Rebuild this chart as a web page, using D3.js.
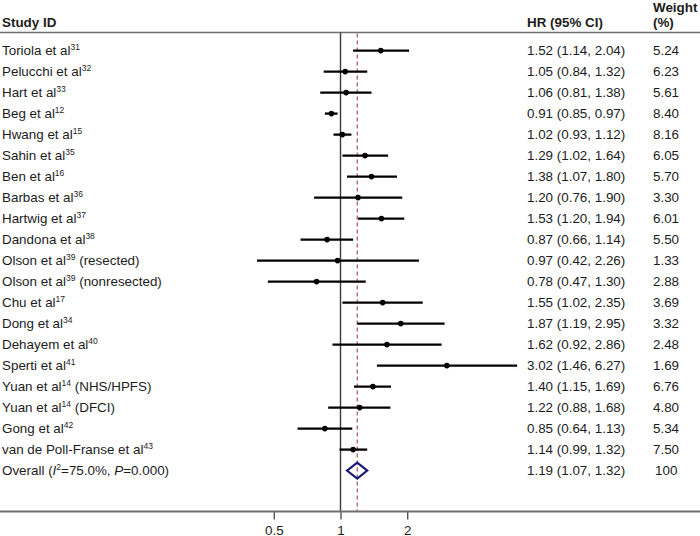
<!DOCTYPE html>
<html>
<head>
<meta charset="utf-8">
<script src="https://cdn.jsdelivr.net/npm/d3@7"></script>
<style>
html,body{margin:0;padding:0;background:#fff;}
svg{display:block;font-family:"Liberation Sans",Arial,sans-serif;}
</style>
</head>
<body>
<svg id="chart" width="700" height="536"></svg>
<script>
// ---- data ----
const studyNames = ["Toriola et al","Pelucchi et al","Hart et al","Beg et al","Hwang et al","Sahin et al","Ben et al","Barbas et al","Hartwig et al","Dandona et al","Olson et al","Olson et al","Chu et al","Dong et al","Dehayem et al","Sperti et al","Yuan et al","Yuan et al","Gong et al","van de Poll-Franse et al"];
const studyRefs = ["31","32","33","12","15","35","16","36","37","38","39","39","17","34","40","41","14","14","42","43"];
const studySuffix = ["","","","","","","","","",""," (resected)"," (nonresected)","","","",""," (NHS/HPFS)"," (DFCI)","",""];
const hr    = [1.52,1.05,1.06,0.91,1.02,1.29,1.38,1.20,1.53,0.87,0.97,0.78,1.55,1.87,1.62,3.02,1.40,1.22,0.85,1.14];
const lower = [1.14,0.84,0.81,0.85,0.93,1.02,1.07,0.76,1.20,0.66,0.42,0.47,1.02,1.19,0.92,1.46,1.15,0.88,0.64,0.99];
const upper = [2.04,1.32,1.38,0.97,1.12,1.64,1.80,1.90,1.94,1.14,2.26,1.30,2.35,2.95,2.86,6.27,1.69,1.68,1.13,1.32];
const weights = ["5.24","6.23","5.61","8.40","8.16","6.05","5.70","3.30","6.01","5.50","1.33","2.88","3.69","3.32","2.48","1.69","6.76","4.80","5.34","7.50"];
const overallHR = 1.19, overallLower = 1.07, overallUpper = 1.32, overallWeight = "100";
const overallI2 = "75.0%", overallP = "0.000";
const axisTicks = [0.5, 1, 2];
const axisTickLabels = ["0.5","1","2"];
const headers = {study:"Study ID", hr:"HR (95% CI)", w1:"Weight", w2:"(%)"};

// ---- drawing ----
const svg = d3.select("#chart");
const fmt = d3.format(".2f");
const x = d3.scaleLog().domain([0.5, 2]).range([273.8, 407.2]);
const nRows = hr.length + 1;
const y = d3.scaleLinear().domain([0, nRows - 1]).range([50.6, 470.6]);
const topY = 32.5, axisY = 511.5;
const textCol = "#1c1c1c";
const fs = 13.4;
const dyText = 4.8;

// header
svg.append("text").attr("x", 2).attr("y", 27).attr("font-size", fs).attr("font-weight", "bold").attr("fill", textCol).text(headers.study);
svg.append("text").attr("x", 527).attr("y", 27).attr("font-size", fs).attr("font-weight", "bold").attr("fill", textCol).text(headers.hr);
svg.append("text").attr("x", 653).attr("y", 11.5).attr("font-size", fs).attr("font-weight", "bold").attr("fill", textCol).text(headers.w1);
svg.append("text").attr("x", 653).attr("y", 27).attr("font-size", fs).attr("font-weight", "bold").attr("fill", textCol).text(headers.w2);

// header rule
svg.append("line").attr("x1", 0).attr("x2", 700).attr("y1", topY).attr("y2", topY).attr("stroke", "#6e6e6e").attr("stroke-width", 1.6);

// null line
svg.append("line").attr("x1", x(1)).attr("x2", x(1)).attr("y1", topY).attr("y2", axisY).attr("stroke", "#3a3a3a").attr("stroke-width", 1.4);
// overall dashed line
svg.append("line").attr("x1", x(overallHR)).attr("x2", x(overallHR)).attr("y1", topY + 1).attr("y2", axisY)
  .attr("stroke", "#a0506a").attr("stroke-width", 1.2).attr("stroke-dasharray", "4,3");

// rows
const rows = hr.map((d, i) => ({i, name: studyNames[i], ref: studyRefs[i], suffix: studySuffix[i], hr: d, lo: lower[i], hi: upper[i], w: weights[i]}));

svg.selectAll(".ci").data(rows).enter().append("line")
  .attr("x1", d => x(d.lo)).attr("x2", d => x(d.hi))
  .attr("y1", d => y(d.i)).attr("y2", d => y(d.i))
  .attr("stroke", "#000").attr("stroke-width", 2.3);
svg.selectAll(".pt").data(rows).enter().append("circle")
  .attr("cx", d => x(d.hr)).attr("cy", d => y(d.i)).attr("r", 2.8).attr("fill", "#000");

const lab = svg.selectAll(".lab").data(rows).enter().append("text")
  .attr("x", 2).attr("y", d => y(d.i) + dyText).attr("font-size", fs).attr("fill", textCol);
lab.append("tspan").text(d => d.name);
lab.append("tspan").attr("font-size", 8.5).attr("dy", -5).text(d => d.ref);
lab.append("tspan").attr("dy", 5).text(d => d.suffix);

svg.selectAll(".est").data(rows).enter().append("text")
  .attr("x", 527).attr("y", d => y(d.i) + dyText).attr("font-size", fs).attr("fill", textCol)
  .text(d => `${fmt(d.hr)} (${fmt(d.lo)}, ${fmt(d.hi)})`);
svg.selectAll(".wt").data(rows).enter().append("text")
  .attr("x", 653).attr("y", d => y(d.i) + dyText).attr("font-size", fs).attr("fill", textCol)
  .text(d => d.w);

// overall
const oy = y(nRows - 1);
const dh = 8;
svg.append("path")
  .attr("d", `M${x(overallLower)},${oy} L${x(overallHR)},${oy - dh} L${x(overallUpper)},${oy} L${x(overallHR)},${oy + dh} Z`)
  .attr("fill", "none").attr("stroke", "#1c1c78").attr("stroke-width", 2.2);
const ot = svg.append("text").attr("x", 2).attr("y", oy + dyText).attr("font-size", fs).attr("fill", textCol);
ot.append("tspan").text("Overall (");
ot.append("tspan").attr("font-style", "italic").text("I");
ot.append("tspan").attr("font-size", 8.5).attr("dy", -5).text("2");
ot.append("tspan").attr("dy", 5).text("=" + overallI2 + ", ");
ot.append("tspan").attr("font-style", "italic").text("P");
ot.append("tspan").text("=" + overallP + ")");
svg.append("text").attr("x", 527).attr("y", oy + dyText).attr("font-size", fs).attr("fill", textCol)
  .text(`${fmt(overallHR)} (${fmt(overallLower)}, ${fmt(overallUpper)})`);
svg.append("text").attr("x", 655).attr("y", oy + dyText).attr("font-size", fs).attr("fill", textCol).text(overallWeight);

// axis
const axis = d3.axisBottom(x).tickValues(axisTicks).tickFormat((d, i) => axisTickLabels[i]).tickSize(8).tickSizeOuter(0).tickPadding(0);
const ag = svg.append("g").attr("transform", `translate(0,${axisY})`).call(axis);
ag.select(".domain").remove();
ag.selectAll(".tick line").attr("stroke", "#555").attr("stroke-width", 1.4);
ag.selectAll(".tick text").attr("font-size", fs).attr("fill", textCol).attr("font-family", "Liberation Sans, Arial, sans-serif")
  .attr("y", 23).attr("dy", null);
svg.append("line").attr("x1", 0).attr("x2", 700).attr("y1", axisY).attr("y2", axisY).attr("stroke", "#6e6e6e").attr("stroke-width", 2);
</script>
</body>
</html>
